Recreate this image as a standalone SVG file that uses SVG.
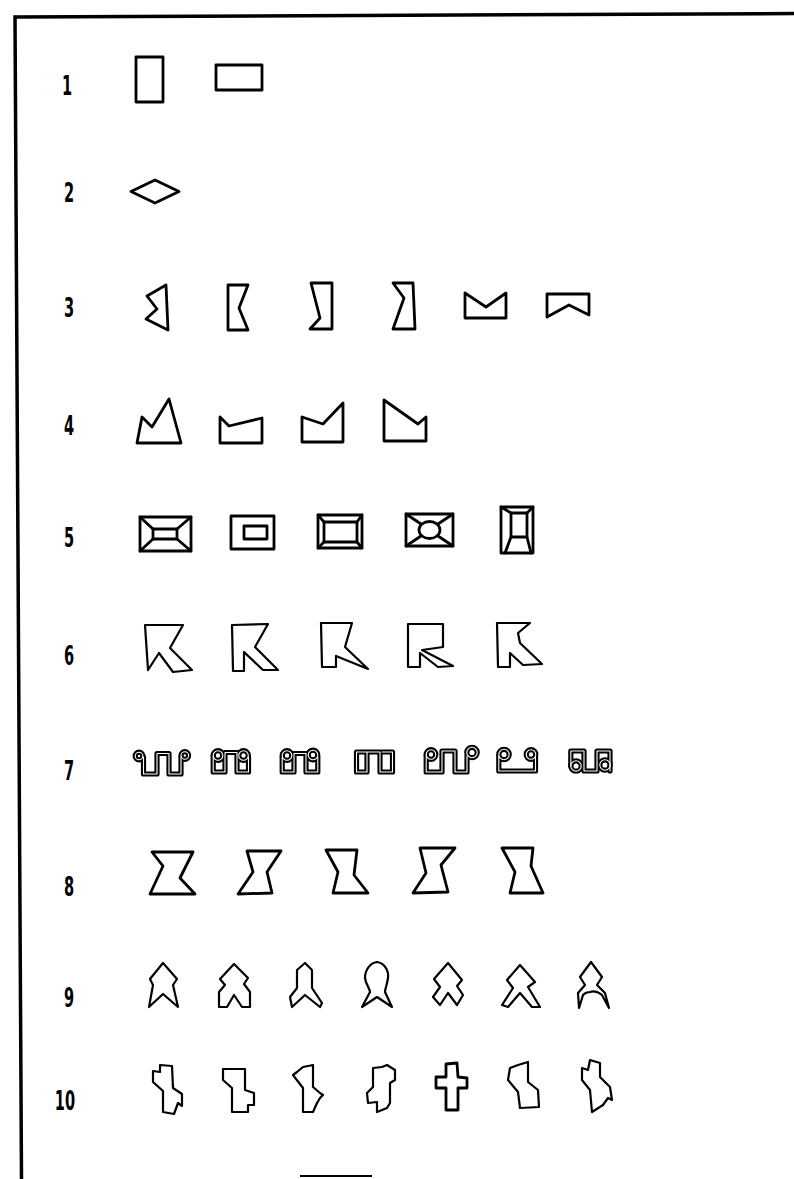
<svg xmlns="http://www.w3.org/2000/svg" xmlns:xlink="http://www.w3.org/1999/xlink" width="794" height="1179" viewBox="0 0 794 1179">
<style>
.fr{fill:none;stroke:#000;stroke-width:3.5;stroke-linecap:square}
.sh{fill:none;stroke:#000;stroke-width:2.2;stroke-linejoin:round;stroke-linecap:round}
.tk{stroke-width:2.8}
.to{fill:none;stroke:#000;stroke-width:5.2;stroke-linejoin:round;stroke-linecap:round}
.ti{fill:none;stroke:#fff;stroke-width:1.1;stroke-linejoin:round;stroke-linecap:round}
.lb{font-family:"DejaVu Sans Condensed","DejaVu Sans",sans-serif;font-weight:bold;font-size:27px;fill:#000;text-anchor:middle}
</style>
<defs>
<g id="t1"><circle cx="139" cy="756" r="3.8"/><path d="M142.8,757 H143.5 V774 H157 V753.5 H169 V774 H181 V757"/><circle cx="184.8" cy="755.5" r="3.8"/></g>
<g id="t2"><circle cx="218" cy="755.5" r="4.8"/><path d="M213.2,756 V772 H225 V752.5 H237 V772 H248.5 V757"/><circle cx="243.5" cy="755.5" r="4.8"/></g>
<g id="t3"><circle cx="287" cy="755.5" r="4.8"/><path d="M282.2,757 V772 H294 V753.5 H306 V772 H317.8 V757"/><circle cx="313" cy="755" r="4.8"/></g>
<g id="t4"><path d="M367,752 H356.5 V772 H367 V752 H380 V772 H392.5 V752 H382"/></g>
<g id="t5"><circle cx="431" cy="754.5" r="4.8"/><path d="M426.2,755 V772 H442 V751 H455 V772 H467 V756"/><circle cx="472" cy="752.5" r="5.2"/></g>
<g id="t6"><circle cx="504" cy="754.5" r="5.2"/><path d="M498.8,756 V771 H535.5 V757"/><circle cx="531" cy="754.5" r="4.8"/></g>
<g id="t7"><circle cx="576" cy="766" r="5.2"/><path d="M570.8,766 V751 H584 V771 H597 V751 H610 V771"/><circle cx="605" cy="765" r="5.2"/></g>
</defs>
<rect width="794" height="1179" fill="#fff"/>
<g id="frame">
<path class="fr" d="M794,13.5 L15,17 L21.5,1179"/>
<path d="M300,1176 H372" stroke="#000" stroke-width="2" fill="none"/>
</g>
<g id="labels">
<text class="lb" transform="translate(67,95) scale(0.6,1)">1</text>
<text class="lb" transform="translate(69,202) scale(0.6,1)">2</text>
<text class="lb" transform="translate(69,317) scale(0.6,1)">3</text>
<text class="lb" transform="translate(69,435) scale(0.6,1)">4</text>
<text class="lb" transform="translate(69,547) scale(0.6,1)">5</text>
<text class="lb" transform="translate(69,665) scale(0.6,1)">6</text>
<text class="lb" transform="translate(69,780) scale(0.6,1)">7</text>
<text class="lb" transform="translate(69,896) scale(0.6,1)">8</text>
<text class="lb" transform="translate(69,1007) scale(0.6,1)">9</text>
<text class="lb" transform="translate(65,1110) scale(0.6,1)">10</text>
</g>
<g id="row1">
<rect class="sh tk" x="136" y="57" width="27" height="45"/>
<rect class="sh tk" x="216" y="65" width="46" height="25"/>
</g>
<g id="row2">
<path class="sh tk" d="M131,191.5 L155,180 L179,191.5 L155,203 Z"/>
</g>
<g id="row3">
<path class="sh tk" d="M166,285 L147,296 L157,309 L146,319 L168,330 Z"/>
<path class="sh tk" d="M228,285 L248,285 L239,308 L248,330 L228,330 Z"/>
<path class="sh tk" d="M311,283 L332,283 L332,329 L310,329 L320,318 Z"/>
<path class="sh tk" d="M393,283 L413,283 L415,329 L393,329 L404,298 Z"/>
<path class="sh tk" d="M465,293 L486,307 L506,293 L506,318 L465,318 Z"/>
<path class="sh tk" d="M547,294 L589,294 L589,315 L569,305 L547,317 Z"/>
</g>
<g id="row4">
<path class="sh tk" d="M137,443 L142,417 L152,427 L169,399 L181,443 Z"/>
<path class="sh tk" d="M220,417 L229,426 L262,418 L262,443 L220,443 Z"/>
<path class="sh tk" d="M302,417 L323,424 L343,403 L343,442 L302,442 Z"/>
<path class="sh tk" d="M384,400 L418,424 L426,417 L426,441 L384,441 Z"/>
</g>
<g id="row5">
<g id="r5a" class="sh tk"><rect x="140" y="517" width="51" height="34"/><rect x="153" y="529" width="24" height="10"/><path d="M140,517 L153,529 M191,517 L177,529 M140,551 L153,539 M191,551 L177,539"/></g>
<g id="r5b" class="sh tk"><rect x="231" y="516" width="43" height="33"/><rect x="244" y="526" width="23" height="13"/></g>
<g id="r5c" class="sh tk"><rect x="318" y="515" width="44" height="33"/><rect x="324" y="522" width="33" height="20"/><path d="M318,515 L324,522 M362,515 L357,522 M318,548 L324,542 M362,548 L357,542"/></g>
<g id="r5d" class="sh tk"><rect x="406" y="514" width="47" height="32"/><ellipse cx="429.5" cy="530" rx="10.5" ry="8.5"/><path d="M406,514 L421,524 M453,514 L438,524 M406,546 L421,536 M453,546 L438,536"/></g>
<g id="r5e" class="sh tk"><rect x="501" y="507" width="32" height="46"/><rect x="511" y="513" width="16" height="24"/><path d="M501,507 L511,513 M533,507 L527,513 M511,537 L505,553 M527,537 L531,553"/></g>
</g>
<g id="row6">
<path class="sh" d="M145,625 L183,625 L170,648 L192,670 L173,672 L159,653 L148,670 Z"/>
<path class="sh" d="M232,625 L268,624 L255,647 L278,670 L263,670 L244,652 L244,671 L233,671 Z"/>
<path class="sh" d="M321,623 L352,623 L345,647 L368,669 L336,656 L336,667 L322,667 Z"/>
<path class="sh" d="M408,624 L443,624 L443,647 L422,650 L453,666 L438,667 L420,653 L420,667 L408,667 Z"/>
<path class="sh" d="M497,623 L530,623 L518,633 L520,643 L542,664 L523,665 L510,653 L510,667 L498,667 Z"/>
</g>
<g id="row7">
<use xlink:href="#t1" class="to"/><use xlink:href="#t1" class="ti"/>
<use xlink:href="#t2" class="to"/><use xlink:href="#t2" class="ti"/>
<use xlink:href="#t3" class="to"/><use xlink:href="#t3" class="ti"/>
<use xlink:href="#t4" class="to"/><use xlink:href="#t4" class="ti"/>
<use xlink:href="#t5" class="to"/><use xlink:href="#t5" class="ti"/>
<use xlink:href="#t6" class="to"/><use xlink:href="#t6" class="ti"/>
<use xlink:href="#t7" class="to"/><use xlink:href="#t7" class="ti"/>
</g>
<g id="row8">
<path class="sh tk" d="M152,852 L193,852 L180,878 L195,894 L150,894 L163,866 Z"/>
<path class="sh tk" d="M247,851 L281,851 L267,872 L272,893 L238,894 L253,872 Z"/>
<path class="sh tk" d="M326,850 L357,850 L354,875 L368,893 L333,893 L338,872 Z"/>
<path class="sh tk" d="M420,848 L455,848 L441,865 L448,892 L413,893 L426,873 Z"/>
<path class="sh tk" d="M502,848 L533,848 L531,866 L543,893 L510,893 L515,872 Z"/>
</g>
<g id="row9">
<path class="sh" d="M163,963 L177,979 L173,985 L178,1007 L163,994 L149,1007 L153,985 L150,979 Z"/>
<path class="sh" d="M234,964 L248,978 L244,984 L250,992 L250,1007 L242,1007 L234,995 L227,1007 L219,1007 L219,992 L225,985 L220,979 Z"/>
<path class="sh" d="M305,963 L312,970 L312,988 L322,1003 L320,1007 L305,995 L292,1007 L290,997 L297,988 L297,970 Z"/>
<path class="sh" d="M377,962 C384,963 389,970 388,978 C387,985 385,989 385,992 L392,1007 L377,997 L362,1007 L370,992 C370,989 366,985 365,978 C365,970 370,963 377,962 Z"/>
<path class="sh" d="M448,963 L462,980 L457,986 L463,995 L457,1005 L448,993 L440,1005 L433,997 L440,987 L434,979 Z"/>
<path class="sh" d="M520,965 L535,982 L528,987 L540,1007 L532,1007 L520,993 L508,1007 L502,1005 L513,988 L507,980 Z"/>
<path class="sh" d="M591,962 L602,977 L597,985 L605,993 L609,1008 L602,995 C597,991 593,991 590,992 C587,992 585,993 583,995 L579,1008 L578,993 L585,985 L580,977 Z"/>
</g>
<g id="row10">
<path class="sh" d="M160,1065 L172,1066 L173,1088 L182,1094 L182,1106 L178,1103 L174,1114 L163,1112 L163,1091 L153,1082 L153,1071 L160,1072 Z"/>
<path class="sh" d="M223,1069 L245,1069 L245,1090 L254,1093 L254,1105 L248,1105 L248,1112 L232,1112 L232,1088 L223,1080 Z"/>
<path class="sh" d="M303,1067 L313,1065 L313,1087 L320,1093 L323,1095 L320,1098 L317,1103 L313,1112 L303,1112 L303,1088 L293,1075 L297,1072 Z"/>
<path class="sh" d="M373,1068 L382,1067 L387,1065 L395,1070 L395,1080 L390,1083 L390,1103 L387,1108 L377,1112 L377,1102 L368,1103 L367,1093 L373,1087 Z"/>
<path class="sh tk" d="M446,1064 L457,1063 L458,1077 L467,1078 L467,1088 L458,1088 L458,1110 L446,1110 L446,1088 L436,1088 L436,1077 L446,1077 Z"/>
<path class="sh" d="M518,1065 L528,1062 L528,1082 L538,1090 L539,1107 L520,1108 L518,1092 L508,1080 L510,1068 Z"/>
<path class="sh" d="M588,1070 L590,1060 L600,1063 L600,1077 L610,1087 L612,1100 L608,1098 L603,1105 L592,1112 L590,1090 L582,1080 L582,1068 Z"/>
</g>
</svg>
